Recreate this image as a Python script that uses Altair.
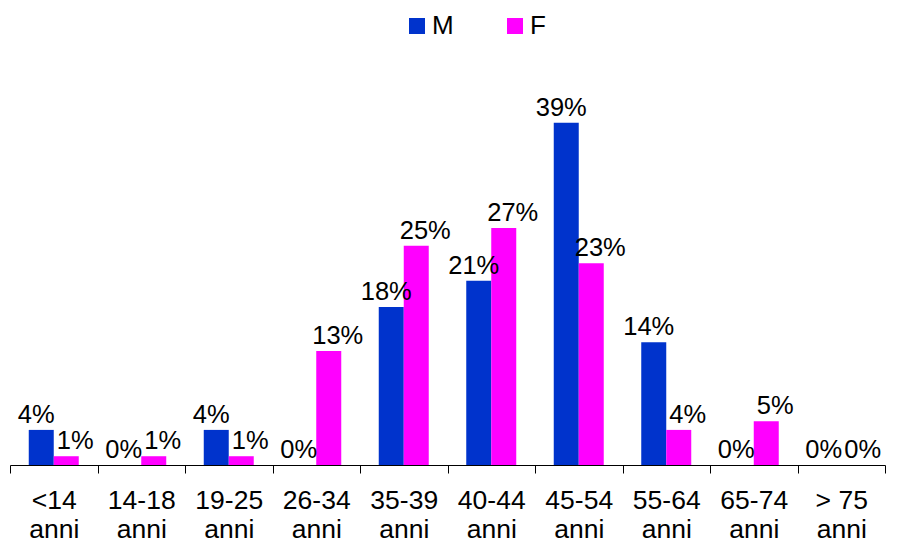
import altair as alt
import pandas as pd

# Age bands (two-line labels, split on "|") and share of each sex, in percent
categories = ["<14|anni", "14-18|anni", "19-25|anni", "26-34|anni", "35-39|anni",
              "40-44|anni", "45-54|anni", "55-64|anni", "65-74|anni", "> 75|anni"]
male = [4, 0, 4, 0, 18, 21, 39, 14, 0, 0]
female = [1, 1, 1, 13, 25, 27, 23, 4, 5, 0]
series = ["M", "F"]
colors = ["#0033CC", "#FF00FF"]

rows = []
for cat, m, f in zip(categories, male, female):
    rows.append({"fascia": cat, "sesso": "M", "valore": m})
    rows.append({"fascia": cat, "sesso": "F", "valore": f})
df = pd.DataFrame(rows)

FONT = "Liberation Sans"

x = alt.X(
    "fascia:N", sort=categories, title=None,
    scale=alt.Scale(paddingInner=0, paddingOuter=0),
    axis=alt.Axis(
        labelExpr="split(datum.label, '|')", labelAngle=0,
        labelFont=FONT, labelFontSize=26.5, labelColor="black",
        labelLineHeight=29, labelPadding=14,
        tickBand="extent", tickSize=8, tickColor="black", tickWidth=1,
        domainColor="black", domainWidth=1, grid=False,
    ),
)
y = alt.Y("valore:Q", scale=alt.Scale(domain=[0, 40]), axis=None)
xoff = alt.XOffset(
    "sesso:N", sort=series,
    scale=alt.Scale(domain=series, paddingInner=0, paddingOuter=0.75),
)

base = alt.Chart(df)

bars = base.mark_bar().encode(
    x=x, y=y, xOffset=xoff,
    color=alt.Color(
        "sesso:N", sort=series,
        scale=alt.Scale(domain=series, range=colors),
        legend=alt.Legend(
            title=None, orient="none", legendX=394, legendY=-101,
            direction="horizontal", symbolType="square", symbolSize=256,
            symbolStrokeWidth=0, symbolOpacity=1,
            labelFont=FONT, labelFontSize=26, labelColor="black",
            labelOffset=2, columnPadding=48, padding=0,
        ),
    ),
)

def value_labels(sex, shift):
    return (
        base.transform_filter(alt.datum.sesso == sex)
        .transform_calculate(etichetta="datum.valore + '%'")
        .mark_text(font=FONT, fontSize=25.5, color="black",
                   baseline="alphabetic", dy=-7, dx=shift)
        .encode(x=x, y=y, xOffset=xoff, text="etichetta:N")
    )

chart = (
    alt.layer(bars, value_labels("M", -5), value_labels("F", 9))
    .properties(
        width=875, height=351,
        padding={"left": 10, "top": 114, "right": 13, "bottom": 79},
        autosize=alt.AutoSizeParams(type="none"),
        background="white",
    )
    .configure_view(stroke=None)
)

chart.save("out.html", embed_options={"renderer": "svg", "actions": False})
